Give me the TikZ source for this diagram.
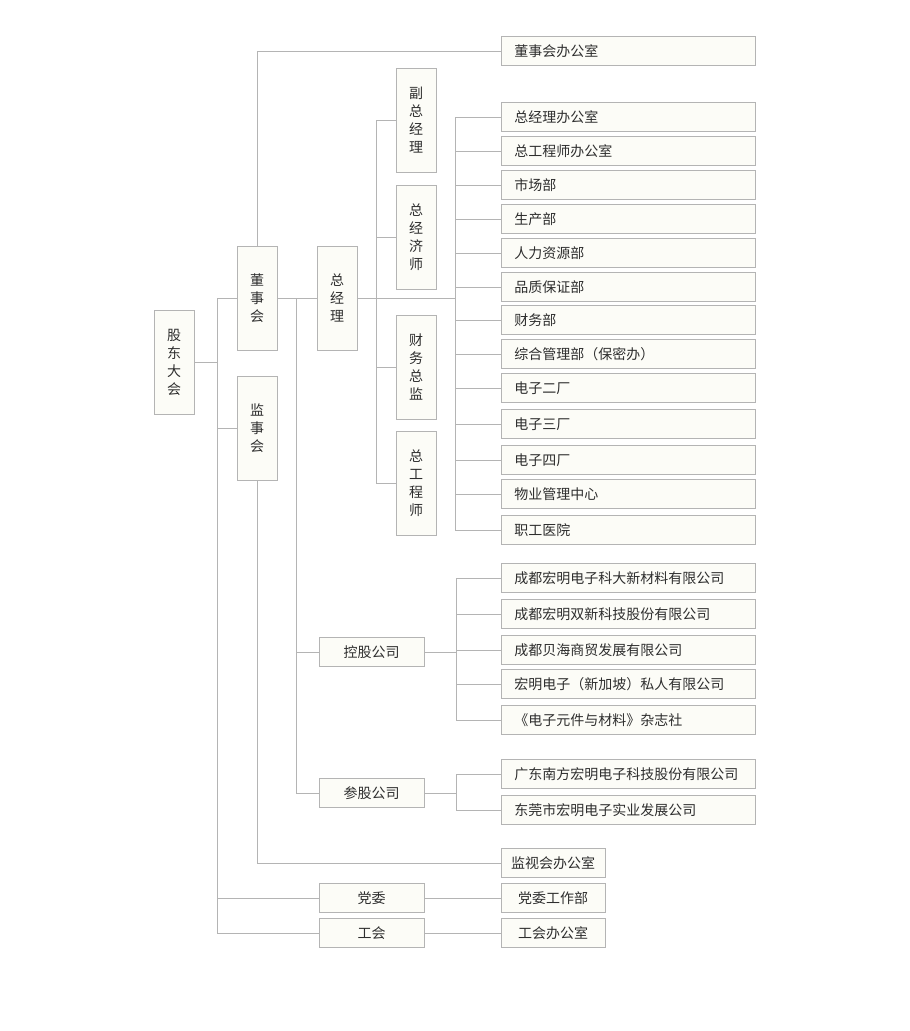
\documentclass[tikz,border=0pt]{standalone}
\usepackage{fontspec}
\setmainfont{Noto Sans CJK SC}
\definecolor{linegray}{HTML}{B4B4B4}
\definecolor{boxfill}{HTML}{FCFCF7}
\definecolor{txtgray}{HTML}{2E2E2E}
\tikzset{
  box/.style={draw=linegray, fill=boxfill, line width=0.9pt, inner sep=0pt, text=txtgray, font=\fontsize{14}{18}\selectfont},
  vbox/.style={box, minimum width=40pt, minimum height=104pt, align=center},
  wbox/.style={box, anchor=west, text width=228pt, minimum height=29pt, inner xsep=13pt, align=left},
  mbox/.style={box, minimum width=105pt, minimum height=29pt},
  link/.style={draw=linegray, line width=0.9pt}
}
\begin{document}
\begin{tikzpicture}[x=1pt,y=-1pt]
\fill[white] (0,0) rectangle (910,1031);
\useasboundingbox (0,0) rectangle (910,1031);
\coordinate (lbus) at (217,0);
\coordinate (mbus) at (296,0);
\coordinate (vbus) at (376,0);
\coordinate (dbus) at (455,0);
\coordinate (kbus) at (456,0);

\node[vbox] (gd) at (174,362) {股\\东\\大\\会};
\node[vbox] (dsh) at (257,298) {董\\事\\会};
\node[vbox] (jsh) at (257,428) {监\\事\\会};
\node[vbox] (zjl) at (337,298) {总\\经\\理};
\node[vbox] (fzjl) at (416,120) {副\\总\\经\\理};
\node[vbox] (zjjs) at (416,237) {总\\经\\济\\师};
\node[vbox] (cwzj) at (416,367) {财\\务\\总\\监};
\node[vbox] (zgcs) at (416,483) {总\\工\\程\\师};

\node[wbox] (dshb) at (501,51) {董事会办公室};
\node[wbox] (d1) at (501,117) {总经理办公室};
\node[wbox] (d2) at (501,151) {总工程师办公室};
\node[wbox] (d3) at (501,185) {市场部};
\node[wbox] (d4) at (501,219) {生产部};
\node[wbox] (d5) at (501,253) {人力资源部};
\node[wbox] (d6) at (501,287) {品质保证部};
\node[wbox] (d7) at (501,320) {财务部};
\node[wbox] (d8) at (501,354) {综合管理部（保密办）};
\node[wbox] (d9) at (501,388) {电子二厂};
\node[wbox] (d10) at (501,424) {电子三厂};
\node[wbox] (d11) at (501,460) {电子四厂};
\node[wbox] (d12) at (501,494) {物业管理中心};
\node[wbox] (d13) at (501,530) {职工医院};

\node[mbox] (kg) at (371.5,652) {控股公司};
\node[wbox] (k1) at (501,578) {成都宏明电子科大新材料有限公司};
\node[wbox] (k2) at (501,614) {成都宏明双新科技股份有限公司};
\node[wbox] (k3) at (501,650) {成都贝海商贸发展有限公司};
\node[wbox] (k4) at (501,684) {宏明电子（新加坡）私人有限公司};
\node[wbox] (k5) at (501,720) {《电子元件与材料》杂志社};

\node[mbox] (cg) at (371.5,793) {参股公司};
\node[wbox] (c1) at (501,774) {广东南方宏明电子科技股份有限公司};
\node[wbox] (c2) at (501,810) {东莞市宏明电子实业发展公司};

\node[mbox, minimum width=104pt] (jsb) at (553,863) {监视会办公室};
\node[mbox] (dw) at (371.5,898) {党委};
\node[mbox, minimum width=104pt] (dwb) at (553,898) {党委工作部};
\node[mbox] (gh) at (371.5,933) {工会};
\node[mbox, minimum width=104pt] (ghb) at (553,933) {工会办公室};

\draw[link] (gd.east) -- (gd.east -| lbus);
\draw[link] (dsh.west) -- (dsh.west -| lbus) -- (gh.west -| lbus) -- (gh.west);
\draw[link] (jsh.west) -- (jsh.west -| lbus);
\draw[link] (dw.west) -- (dw.west -| lbus);
\draw[link] (dsh.north) |- (dshb.west);
\draw[link] (dsh.east) -- (zjl.west);
\draw[link] (dsh.east -| mbus) |- (cg.west);
\draw[link] (kg.west) -- (kg.west -| mbus);
\draw[link] (zjl.east) -- (zjl.east -| dbus);
\draw[link] (fzjl.west) -- (fzjl.west -| vbus) -- (zgcs.west -| vbus) -- (zgcs.west);
\draw[link] (zjjs.west) -- (zjjs.west -| vbus);
\draw[link] (cwzj.west) -- (cwzj.west -| vbus);
\draw[link] (d1.west) -- (d1.west -| dbus) -- (d13.west -| dbus) -- (d13.west);
\draw[link] (d2.west) -- (d2.west -| dbus);
\draw[link] (d3.west) -- (d3.west -| dbus);
\draw[link] (d4.west) -- (d4.west -| dbus);
\draw[link] (d5.west) -- (d5.west -| dbus);
\draw[link] (d6.west) -- (d6.west -| dbus);
\draw[link] (d7.west) -- (d7.west -| dbus);
\draw[link] (d8.west) -- (d8.west -| dbus);
\draw[link] (d9.west) -- (d9.west -| dbus);
\draw[link] (d10.west) -- (d10.west -| dbus);
\draw[link] (d11.west) -- (d11.west -| dbus);
\draw[link] (d12.west) -- (d12.west -| dbus);
\draw[link] (jsh.south) |- (jsb.west);
\draw[link] (kg.east) -- (kg.east -| kbus);
\draw[link] (k1.west) -- (k1.west -| kbus) -- (k5.west -| kbus) -- (k5.west);
\draw[link] (k2.west) -- (k2.west -| kbus);
\draw[link] (k3.west) -- (k3.west -| kbus);
\draw[link] (k4.west) -- (k4.west -| kbus);
\draw[link] (cg.east) -- (cg.east -| kbus);
\draw[link] (c1.west) -- (c1.west -| kbus) -- (c2.west -| kbus) -- (c2.west);
\draw[link] (dw.east) -- (dwb.west);
\draw[link] (gh.east) -- (ghb.west);
\end{tikzpicture}
\end{document}
